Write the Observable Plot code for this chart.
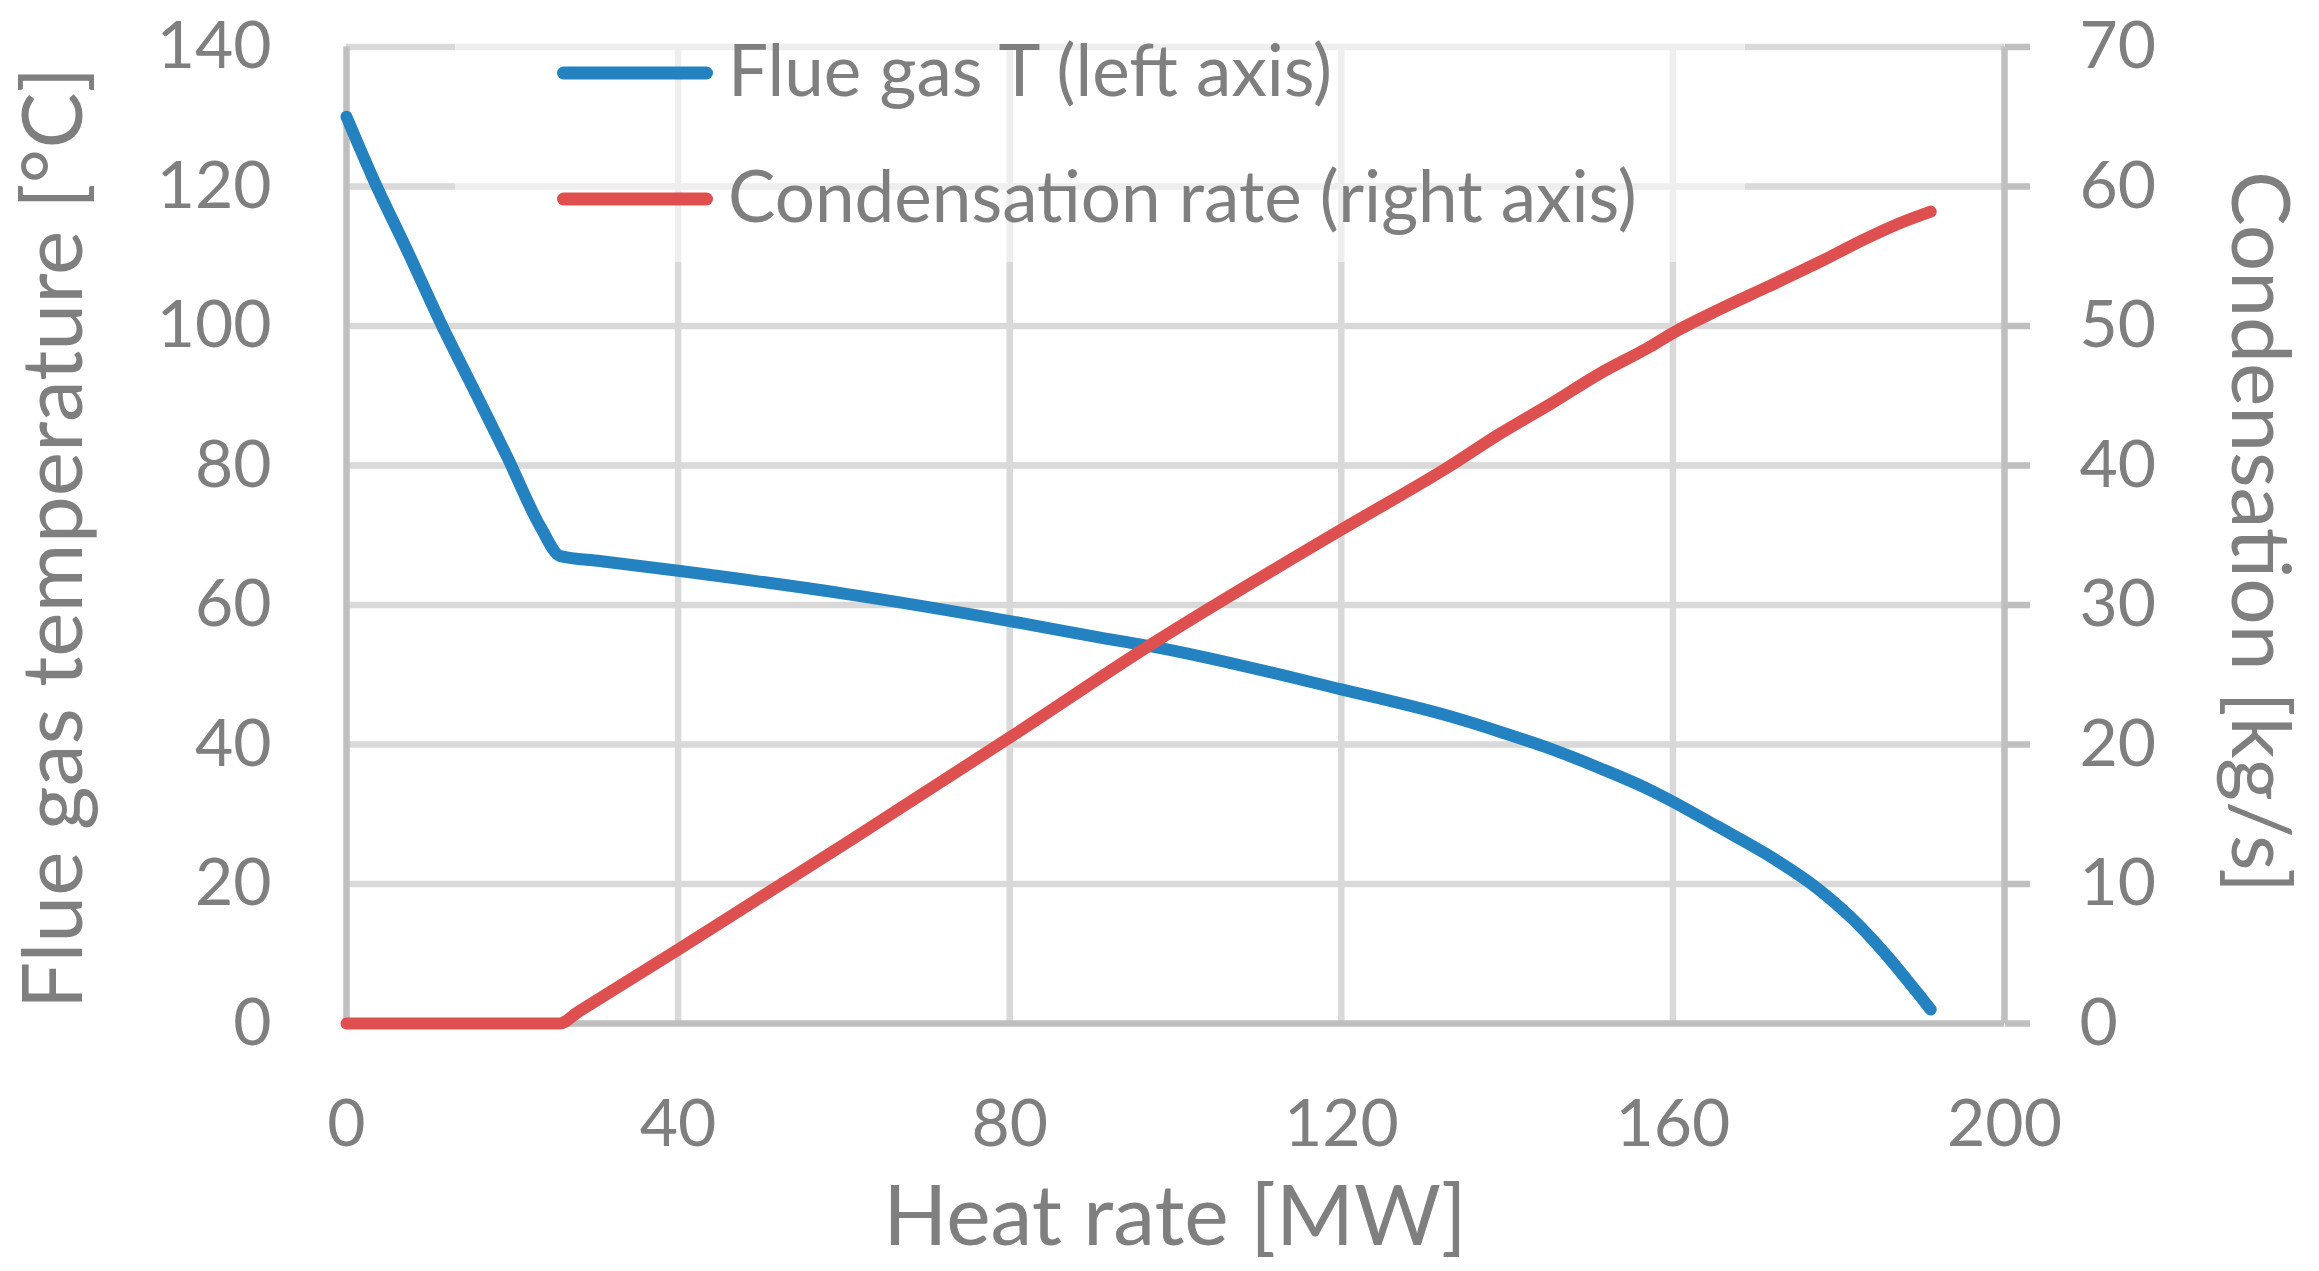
<!DOCTYPE html>
<html>
<head>
<meta charset="utf-8">
<script src="https://cdn.jsdelivr.net/npm/d3@7"></script>
<script src="https://cdn.jsdelivr.net/npm/@observablehq/plot@0.6"></script>
<style>
  html, body { margin: 0; padding: 0; background: #fff; }
  #wrap { position: relative; width: 2319px; height: 1271px; font-family: Lato, "Open Sans", sans-serif; }
  #overlay { position: absolute; left: 0; top: 0; pointer-events: none; }
</style>
</head>
<body>
<div id="wrap"></div>
<script>
// ---- Data ----
const heatFlue = [0, 3.3, 7.3, 11.3, 15.4, 19.4, 23.4, 25.8, 30.6, 40, 60.2, 80, 91.1, 97.4, 120, 133.2, 139.2, 145.2, 151.2, 157.2, 160, 165.3, 171.4, 177.4, 181.4, 185.4, 189.5, 191.1];
const flueTemp = [130.0, 120.9, 110.9, 100.6, 90.8, 81.2, 71.2, 67.0, 66.3, 64.9, 61.6, 57.7, 55.3, 54.0, 47.9, 44.0, 41.8, 39.4, 36.6, 33.5, 31.8, 28.3, 24.2, 19.4, 15.3, 10.3, 4.4, 2.0];

const heatCond = [0, 25.7, 28.0, 40, 60.2, 80, 97.4, 120, 133.2, 139.2, 145.2, 151.2, 157.2, 160, 165.3, 171.4, 177.4, 183.4, 187.5, 191.1];
const condRate = [0, 0, 0.85, 5.3, 12.9, 20.5, 27.3, 35.4, 40.0, 42.3, 44.4, 46.6, 48.5, 49.5, 51.1, 52.8, 54.5, 56.3, 57.4, 58.2];

const xTicks = [0, 40, 80, 120, 160, 200];
const leftTicks = [0, 20, 40, 60, 80, 100, 120, 140];
const rightTicks = [0, 10, 20, 30, 40, 50, 60, 70];

const seriesNames = ["Flue gas T (left axis)", "Condensation rate (right axis)"];
const seriesColors = ["#2482c1", "#de5050"];

const xLabel = "Heat rate [MW]";
const leftLabel = "Flue gas temperature [°C]";
const rightLabel = "Condensation [kg/s]";

// ---- Build tables ----
const flue = heatFlue.map((q, i) => ({q, t: flueTemp[i]}));
const cond = heatCond.map((q, i) => ({q, c: condRate[i]}));
const ratio = 140 / 70; // left domain / right domain

const textColor = "#7f7f7f";
const gridColor = "#d9d9d9";
const axisColor = "#bfbfbf";

const W = 2319, H = 1271;
const chart = Plot.plot({
  width: W,
  height: H,
  marginLeft: 346,
  marginRight: 315,
  marginTop: 46.5,
  marginBottom: 248,
  style: {fontFamily: "Lato, 'Open Sans', sans-serif", color: textColor, background: "#fff"},
  x: {domain: [0, 200]},
  y: {domain: [0, 140]},
  marks: [
    Plot.gridY(leftTicks.filter(d => d > 0), {stroke: gridColor, strokeOpacity: 1, strokeWidth: 6.5}),
    Plot.gridX(xTicks.filter(d => d > 0 && d < 200), {stroke: gridColor, strokeOpacity: 1, strokeWidth: 6.5}),
    Plot.ruleX([0, 200], {stroke: axisColor, strokeWidth: 6.5}),
    Plot.axisY({anchor: "left", ticks: leftTicks, tickSize: 0, tickPadding: 75, fontSize: 66, fill: textColor, label: null}),
    Plot.axisY({anchor: "right", ticks: rightTicks.map(d => d * ratio), tickSize: 25, stroke: axisColor, strokeWidth: 6.5,
      tickPadding: 50, tickFormat: d => String(d / ratio), fontSize: 66, fill: textColor, label: null, textAnchor: "start"}),
    Plot.axisX({ticks: xTicks, tickSize: 0, tickPadding: 76, fontSize: 66, fill: textColor, label: null}),
    Plot.ruleY([0], {stroke: axisColor, strokeWidth: 6.5}),
    Plot.line(flue, {x: "q", y: "t", curve: "monotone-x", stroke: seriesColors[0], strokeWidth: 12, strokeLinecap: "round", strokeLinejoin: "round"}),
    Plot.line(cond, {x: "q", y: d => d.c * ratio, curve: "monotone-x", stroke: seriesColors[1], strokeWidth: 12, strokeLinecap: "round", strokeLinejoin: "round"})
  ]
});

const wrap = document.getElementById("wrap");
wrap.appendChild(chart);

// Axis titles
const svg = d3.select(chart);
const titleSize = 84;
svg.append("text")
  .attr("transform", "translate(82,538) rotate(-90)")
  .attr("text-anchor", "middle")
  .attr("fill", textColor)
  .attr("font-size", titleSize)
  .text(leftLabel);
svg.append("text")
  .attr("transform", "translate(2232,532) rotate(90)")
  .attr("text-anchor", "middle")
  .attr("fill", textColor)
  .attr("font-size", 82)
  .text(rightLabel);
svg.append("text")
  .attr("x", 1175)
  .attr("y", 1245)
  .attr("text-anchor", "middle")
  .attr("fill", textColor)
  .attr("font-size", titleSize)
  .text(xLabel);

// Legend overlay (semi-transparent box over the grid, like the original)
const ov = d3.select(wrap).append("svg")
  .attr("id", "overlay")
  .attr("width", W).attr("height", H)
  .style("font-family", "Lato, 'Open Sans', sans-serif");
ov.append("rect").attr("x", 455).attr("y", 30).attr("width", 1290).attr("height", 232)
  .attr("fill", "#fff").attr("fill-opacity", 0.55);
const rows = [73, 199];
seriesNames.forEach((name, i) => {
  ov.append("line")
    .attr("x1", 563.5).attr("x2", 706.5).attr("y1", rows[i]).attr("y2", rows[i])
    .attr("stroke", seriesColors[i]).attr("stroke-width", 13).attr("stroke-linecap", "round");
  ov.append("text")
    .attr("x", 728).attr("y", rows[i] + 23)
    .attr("fill", textColor).attr("font-size", 71)
    .text(name);
});
</script>
</body>
</html>
